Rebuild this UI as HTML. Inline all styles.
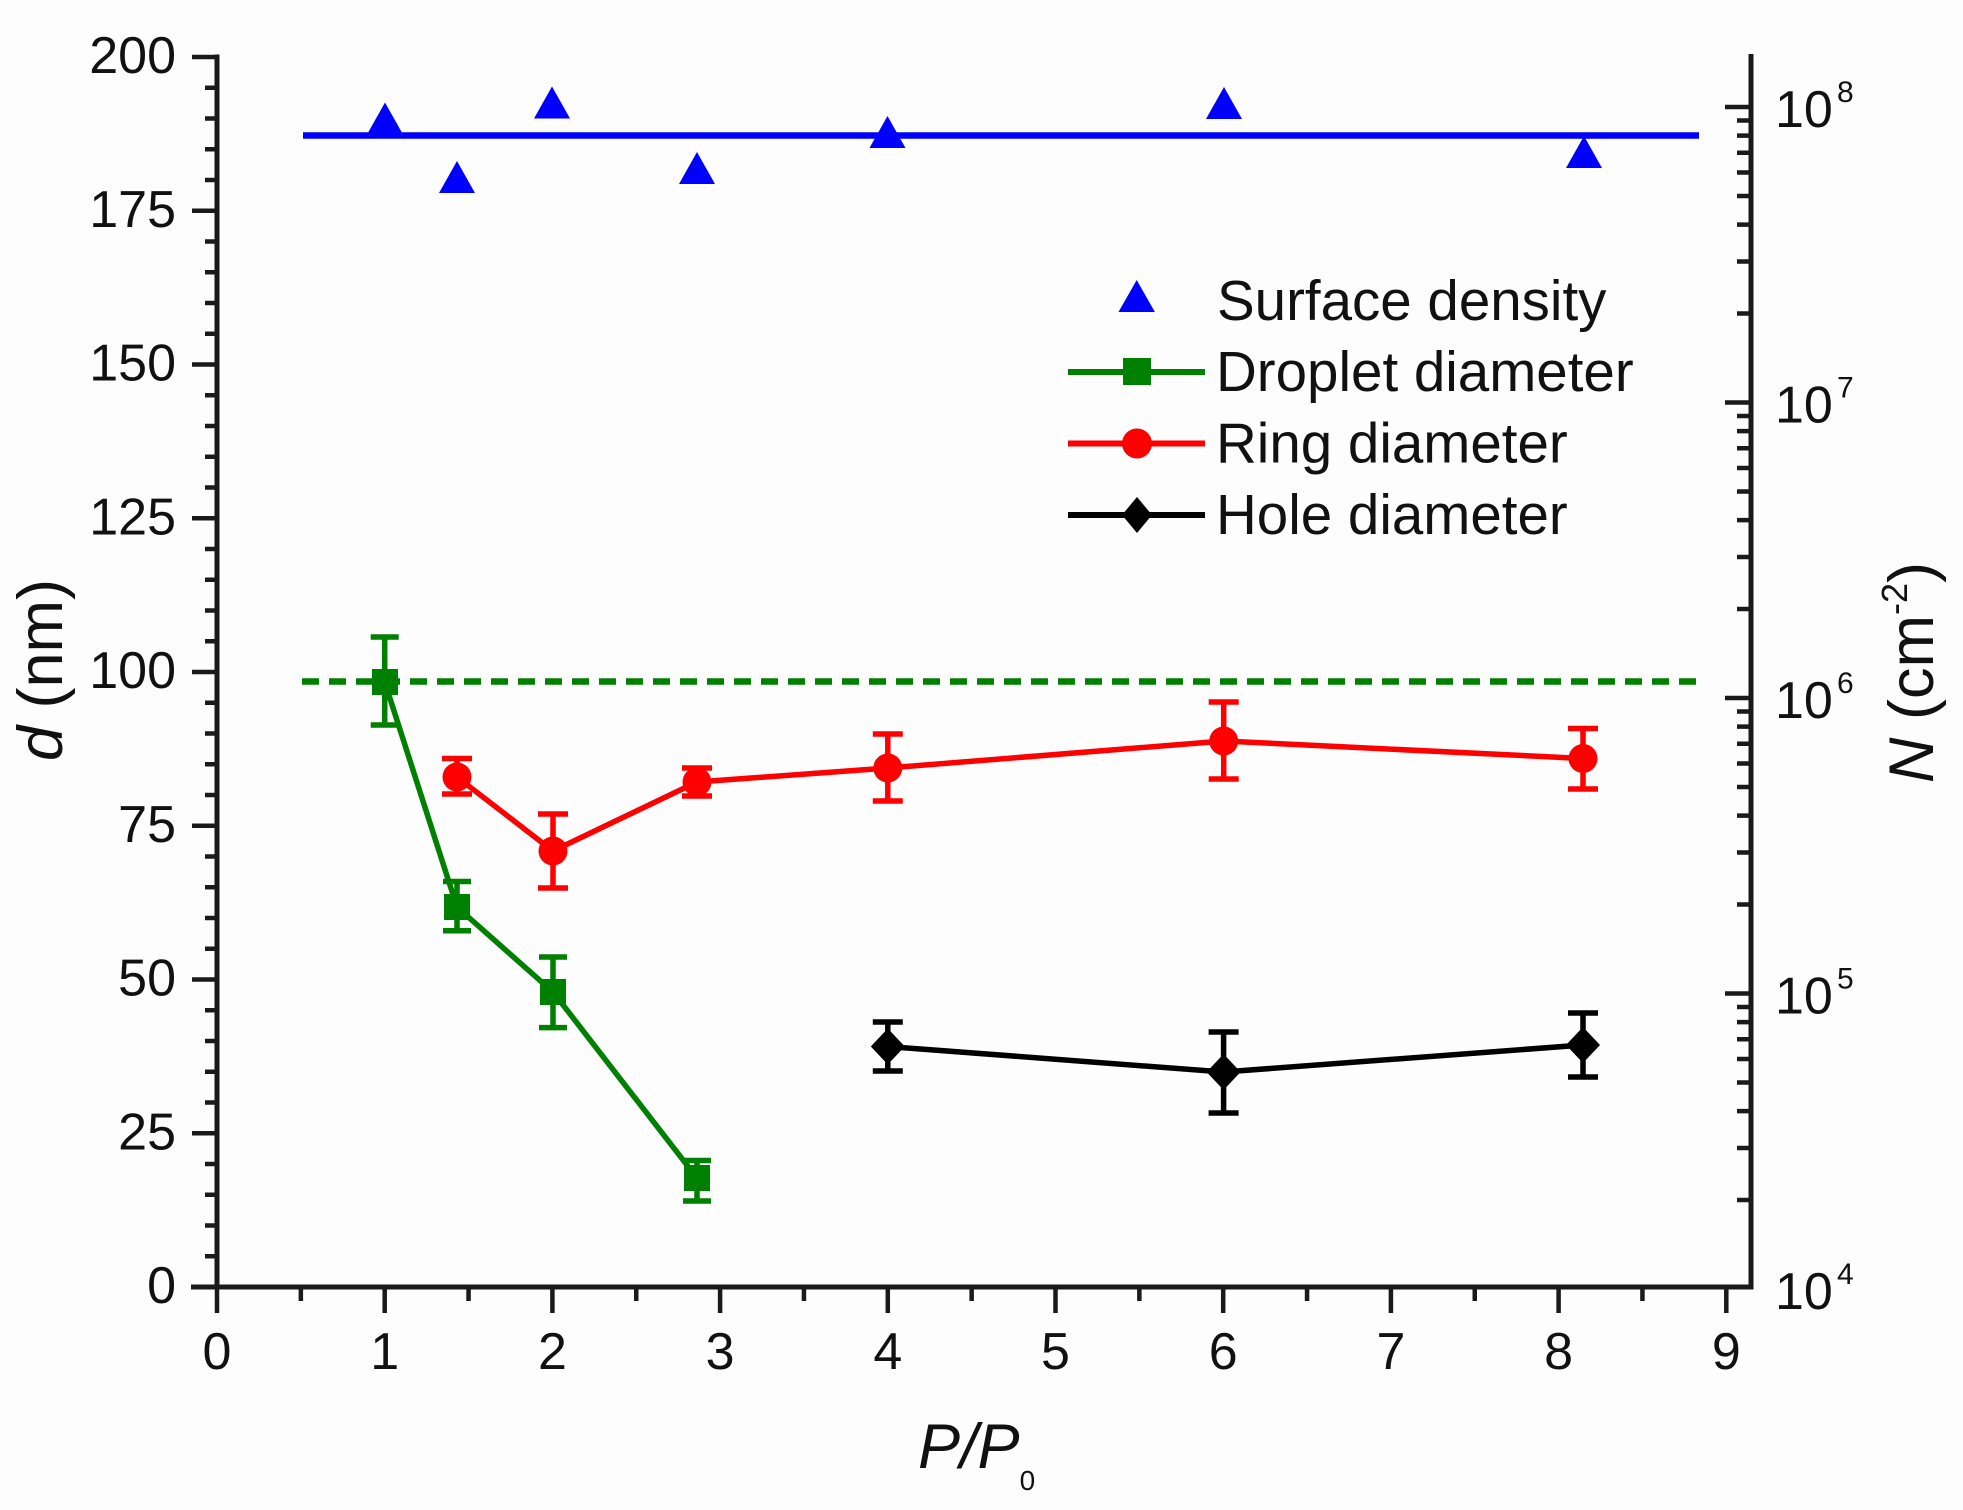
<!DOCTYPE html>
<html>
<head>
<meta charset="utf-8">
<style>
html,body{margin:0;padding:0;background:#fdfdfd;}
svg{display:block;}
text{font-family:"Liberation Sans",Arial,sans-serif;fill:#111;}
</style>
</head>
<body>
<svg width="1963" height="1510" viewBox="0 0 1963 1510" xmlns="http://www.w3.org/2000/svg">
<rect x="0" y="0" width="1963" height="1510" fill="#fdfdfd"/>

<!-- Axes -->
<g stroke="#1a1a1a" stroke-width="5" fill="none">
  <line x1="217" y1="54.5" x2="217" y2="1289.5"/>
  <line x1="191" y1="1287" x2="1753.5" y2="1287"/>
  <line x1="1751" y1="54" x2="1751" y2="1289.5"/>
</g>

<!-- Left ticks -->
<g stroke="#1a1a1a" stroke-width="4.5" fill="none">
  <path d="M192 1287H217M192 1133.25H217M192 979.5H217M192 825.75H217M192 672H217M192 518.25H217M192 364.5H217M192 210.75H217M192 57H217"/>
  <path d="M205 1256.25H217M205 1225.5H217M205 1194.75H217M205 1164H217M205 1102.5H217M205 1071.75H217M205 1041H217M205 1010.25H217M205 948.75H217M205 918H217M205 887.25H217M205 856.5H217M205 795H217M205 764.25H217M205 733.5H217M205 702.75H217M205 641.25H217M205 610.5H217M205 579.75H217M205 549H217M205 487.5H217M205 456.75H217M205 426H217M205 395.25H217M205 333.75H217M205 303H217M205 272.25H217M205 241.5H217M205 180H217M205 149.25H217M205 118.5H217M205 87.75H217"/>
</g>

<!-- Bottom ticks -->
<g stroke="#1a1a1a" stroke-width="4.5" fill="none">
  <path d="M217 1287V1313M384.7 1287V1313M552.4 1287V1313M720.1 1287V1313M887.8 1287V1313M1055.5 1287V1313M1223.2 1287V1313M1390.9 1287V1313M1558.6 1287V1313M1726.3 1287V1313"/>
  <path d="M300.85 1287V1301M468.55 1287V1301M636.25 1287V1301M803.95 1287V1301M971.65 1287V1301M1139.35 1287V1301M1307.05 1287V1301M1474.75 1287V1301M1642.45 1287V1301"/>
</g>

<!-- Right ticks (log) -->
<g stroke="#1a1a1a" stroke-width="4.5" fill="none">
  <path d="M1725 993.5H1751M1725 698H1751M1725 402.5H1751M1725 107H1751"/>
  <path d="M1737 1200.05H1751M1737 1148.01H1751M1737 1111.09H1751M1737 1082.45H1751M1737 1059.06H1751M1737 1039.27H1751M1737 1022.14H1751M1737 1007.02H1751
           M1737 904.55H1751M1737 852.51H1751M1737 815.59H1751M1737 786.95H1751M1737 763.56H1751M1737 743.77H1751M1737 726.64H1751M1737 711.52H1751
           M1737 609.05H1751M1737 557.01H1751M1737 520.09H1751M1737 491.45H1751M1737 468.06H1751M1737 448.27H1751M1737 431.14H1751M1737 416.02H1751
           M1737 313.55H1751M1737 261.51H1751M1737 224.59H1751M1737 195.95H1751M1737 172.56H1751M1737 152.77H1751M1737 135.64H1751M1737 120.52H1751"/>
</g>

<!-- Left tick labels -->
<g font-size="52" text-anchor="end">
  <text x="176" y="1303">0</text>
  <text x="176" y="1149.25">25</text>
  <text x="176" y="995.5">50</text>
  <text x="176" y="841.75">75</text>
  <text x="176" y="688">100</text>
  <text x="176" y="534.25">125</text>
  <text x="176" y="380.5">150</text>
  <text x="176" y="226.75">175</text>
  <text x="176" y="73">200</text>
</g>

<!-- Bottom tick labels -->
<g font-size="52" text-anchor="middle">
  <text x="217" y="1369">0</text>
  <text x="384.7" y="1369">1</text>
  <text x="552.4" y="1369">2</text>
  <text x="720.1" y="1369">3</text>
  <text x="887.8" y="1369">4</text>
  <text x="1055.5" y="1369">5</text>
  <text x="1223.2" y="1369">6</text>
  <text x="1390.9" y="1369">7</text>
  <text x="1558.6" y="1369">8</text>
  <text x="1726.3" y="1369">9</text>
</g>

<!-- Right tick labels -->
<g font-size="52">
  <text x="1775" y="127">10</text>
  <text x="1775" y="422.5">10</text>
  <text x="1775" y="718">10</text>
  <text x="1775" y="1013.5">10</text>
  <text x="1775" y="1309">10</text>
</g>
<g font-size="30">
  <text x="1837" y="102">8</text>
  <text x="1837" y="397.5">7</text>
  <text x="1837" y="693">6</text>
  <text x="1837" y="988.5">5</text>
  <text x="1837" y="1284">4</text>
</g>

<!-- Axis titles -->
<text font-size="63" text-anchor="middle" transform="translate(62,670) rotate(-90)"><tspan font-style="italic">d</tspan> (nm)</text>
<text font-size="63" transform="translate(1933,783) rotate(-90)"><tspan font-style="italic">N</tspan> (cm<tspan font-size="36" dy="-26">-2</tspan><tspan dy="26">)</tspan></text>
<text font-size="63" x="918" y="1468"><tspan font-style="italic">P</tspan><tspan font-style="italic">/</tspan><tspan font-style="italic">P</tspan><tspan font-size="28" dy="22">0</tspan></text>

<!-- Green dashed reference -->
<line x1="302" y1="681.5" x2="1699" y2="681.5" stroke="#008000" stroke-width="6.5" stroke-dasharray="17 10"/>

<!-- Blue density line -->
<line x1="303" y1="135.5" x2="1699" y2="135.5" stroke="#0000ff" stroke-width="6.5"/>

<!-- Blue triangles -->
<g fill="#0000ff">
  <path d="M367 134.5L385 102.5L403 134.5Z"/>
  <path d="M439 193L457 161L475 193Z"/>
  <path d="M534 118.5L552 86.5L570 118.5Z"/>
  <path d="M679 184L697 152L715 184Z"/>
  <path d="M869.5 148L887.5 116L905.5 148Z"/>
  <path d="M1206 119L1224 87L1242 119Z"/>
  <path d="M1566 168L1584 136L1602 168Z"/>
</g>

<!-- Green droplet series -->
<g stroke="#008000" stroke-width="5.5" fill="none">
  <polyline points="384.7,682 457,907 553,992 697,1178"/>
  <path d="M384.7 637V725M370.7 637H398.7M370.7 725H398.7"/>
  <path d="M457 881.5V930.7M443 881.5H471M443 930.7H471"/>
  <path d="M553 957V1027.6M539 957H567M539 1027.6H567"/>
  <path d="M697 1160.5V1201M683 1160.5H711M683 1201H711"/>
</g>
<g fill="#008000">
  <rect x="372" y="669" width="26" height="26"/>
  <rect x="444" y="894" width="26" height="26"/>
  <rect x="540" y="979" width="26" height="26"/>
  <rect x="684" y="1165" width="26" height="26"/>
</g>

<!-- Red ring series -->
<g stroke="#ff0000" stroke-width="5.5" fill="none">
  <polyline points="457,777 553,851 697,782 887.8,768 1223.7,741 1583,758.5"/>
  <path d="M457 758.5V794M442 758.5H472M442 794H472"/>
  <path d="M553 814V888M538 814H568M538 888H568"/>
  <path d="M697 768V796M682 768H712M682 796H712"/>
  <path d="M887.8 734V801M872.8 734H902.8M872.8 801H902.8"/>
  <path d="M1223.7 702V779M1208.7 702H1238.7M1208.7 779H1238.7"/>
  <path d="M1583 728.5V789M1568 728.5H1598M1568 789H1598"/>
</g>
<g fill="#ff0000">
  <circle cx="457" cy="777" r="14.5"/>
  <circle cx="553" cy="851" r="14.5"/>
  <circle cx="697" cy="782" r="14.5"/>
  <circle cx="887.8" cy="768" r="14.5"/>
  <circle cx="1223.7" cy="741" r="14.5"/>
  <circle cx="1583" cy="758.5" r="14.5"/>
</g>

<!-- Black hole series -->
<g stroke="#000" stroke-width="5.5" fill="none">
  <polyline points="887.8,1046.5 1223.6,1072 1583,1045"/>
  <path d="M887.8 1022V1071M872.8 1022H902.8M872.8 1071H902.8"/>
  <path d="M1223.6 1032V1113M1208.6 1032H1238.6M1208.6 1113H1238.6"/>
  <path d="M1583 1013V1077M1568 1013H1598M1568 1077H1598"/>
</g>
<g fill="#000">
  <path d="M887.8 1028.5L904.8 1046.5L887.8 1064.5L870.8 1046.5Z"/>
  <path d="M1223.6 1054L1240.6 1072L1223.6 1090L1206.6 1072Z"/>
  <path d="M1583 1027L1600 1045L1583 1063L1566 1045Z"/>
</g>

<!-- Legend -->
<path d="M1118.5 312L1136.7 280L1154.9 312Z" fill="#0000ff"/>
<line x1="1068" y1="372" x2="1205" y2="372" stroke="#008000" stroke-width="6"/>
<rect x="1123" y="358" width="28" height="27" fill="#008000"/>
<line x1="1068" y1="443.5" x2="1205" y2="443.5" stroke="#ff0000" stroke-width="6"/>
<circle cx="1137" cy="443.5" r="15" fill="#ff0000"/>
<line x1="1068" y1="515" x2="1205" y2="515" stroke="#000" stroke-width="6"/>
<path d="M1137 497L1152 515L1137 533L1122 515Z" fill="#000"/>

<g font-size="56.5">
  <text x="1217" y="320">Surface density</text>
  <text x="1216" y="391">Droplet diameter</text>
  <text x="1216" y="462.5">Ring diameter</text>
  <text x="1216" y="534">Hole diameter</text>
</g>
</svg>
</body>
</html>
